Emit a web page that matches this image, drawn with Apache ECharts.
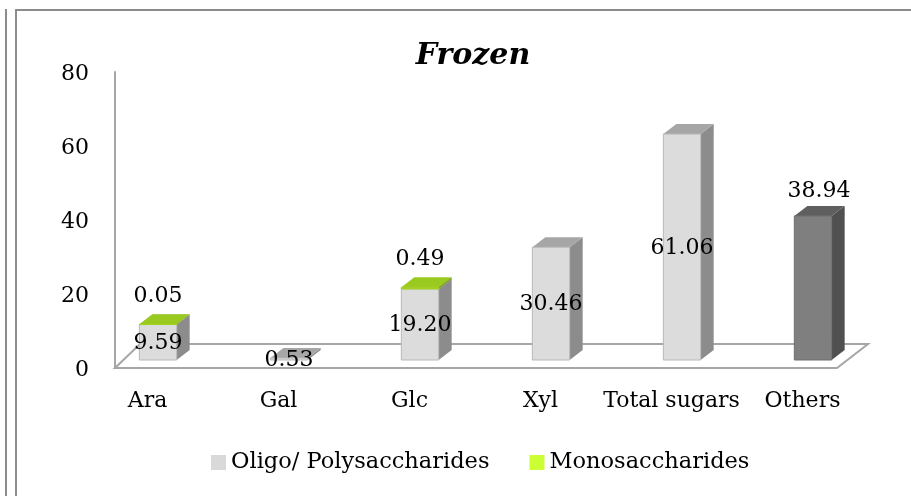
<!DOCTYPE html>
<html>
<head>
<meta charset="utf-8">
<title>Frozen</title>
<script src="https://cdn.jsdelivr.net/npm/echarts@6/dist/echarts.min.js"></script>
<style>
html, body { margin: 0; padding: 0; background: #fff; }
#main { width: 911px; height: 496px; }
</style>
</head>
<body>
<div id="main"></div>
<script>
var categories = ['Ara', 'Gal', 'Glc', 'Xyl', 'Total sugars', 'Others']
var oligo = [9.59, 0.53, 19.20, 30.46, 61.06, null]
var mono = [0.05, null, 0.49, null, null, null]
var others = [null, null, null, null, null, 38.94]
var yTicks = [0, 20, 40, 60, 80]

var FONT = '"DejaVu Serif", serif'
var LABEL_FONT = '22px ' + FONT

// fake 3D box: front face is pushed back from the axis position
var SHIFT_X = 10.5
var SHIFT_Y = -8
var DEPTH_X = 13
var DEPTH_Y = -10

function boxSeries (name, values, bases, colors, labelMode) {
  var rows = []
  values.forEach(function (v, i) {
    if (v !== null) rows.push([i, bases ? (bases[i] || 0) : 0, v])
  })
  return {
    name: name,
    type: 'custom',
    clip: false,
    itemStyle: { color: colors.legend },
    encode: { x: 0, y: 2 },
    data: rows,
    renderItem: function (params, api) {
      var idx = api.value(0)
      var base = api.value(1)
      var val = api.value(2)
      var cx = api.coord([idx, 0])[0] + SHIFT_X
      var y0 = api.coord([idx, base])[1] + SHIFT_Y
      var y1 = api.coord([idx, base + val])[1] + SHIFT_Y
      var w = api.size([1, 0])[0] * 0.285
      var l = cx - w / 2
      var r = cx + w / 2
      var children = [
        { type: 'polygon', shape: { points: [[r, y0], [r + DEPTH_X, y0 + DEPTH_Y], [r + DEPTH_X, y1 + DEPTH_Y], [r, y1]] }, style: { fill: colors.side } },
        { type: 'polygon', shape: { points: [[l, y1], [r, y1], [r + DEPTH_X, y1 + DEPTH_Y], [l + DEPTH_X, y1 + DEPTH_Y]] }, style: { fill: colors.top } },
        { type: 'rect', shape: { x: l, y: y1, width: w, height: y0 - y1 }, style: { fill: colors.front, stroke: colors.edge, lineWidth: 1 } }
      ]
      var text = val.toFixed(2)
      var lx = cx
      var ly = (y0 + y1) / 2 + 1
      if (labelMode === 'above') ly = y1 - 28
      if (labelMode === 'aboveRight') { lx = cx + 6; ly = y1 - 25 }
      children.push({
        type: 'text',
        z2: 50,
        style: { text: text, x: lx, y: ly, align: 'center', verticalAlign: 'middle', font: LABEL_FONT, fill: '#000' }
      })
      return { type: 'group', children: children }
    }
  }
}

var greyBox = { legend: '#d9d9d9', front: '#dcdcdc', side: '#8c8c8c', top: '#a6a6a6', edge: '#b8b8b8' }
var greenBox = { legend: '#ccff33', front: '#a4d022', side: '#7f9e1c', top: '#9aca1f', edge: '#a4d022' }
var darkBox = { legend: '#7f7f7f', front: '#7f7f7f', side: '#505050', top: '#5f5f5f', edge: '#6e6e6e' }

var chart = echarts.init(document.getElementById('main'))
chart.setOption({
  backgroundColor: '#fff',
  animation: false,
  textStyle: { fontFamily: FONT },
  title: {
    text: 'Frozen',
    left: 468,
    top: 36,
    textAlign: 'center',
    textStyle: { fontFamily: FONT, fontSize: 30, fontWeight: 'bold', fontStyle: 'italic', color: '#000' }
  },
  legend: {
    left: 206,
    top: 446,
    icon: 'rect',
    itemWidth: 15,
    itemHeight: 15,
    itemGap: 40,
    itemStyle: { borderWidth: 0 },
    textStyle: { fontFamily: FONT, fontSize: 22.5, color: '#000' },
    data: ['Oligo/ Polysaccharides', 'Monosaccharides']
  },
  grid: { left: 82, top: 72, width: 786, height: 296 },
  xAxis: {
    type: 'category',
    data: categories,
    axisLine: { show: false },
    axisTick: { show: false },
    axisLabel: { interval: 0, margin: 22, fontFamily: FONT, fontSize: 22, color: '#000' }
  },
  yAxis: {
    type: 'value',
    min: yTicks[0],
    max: yTicks[yTicks.length - 1],
    interval: 20,
    offset: -33,
    axisLine: { show: true, lineStyle: { color: '#a6a6a6', width: 2 } },
    axisTick: { show: false },
    splitLine: { show: false },
    axisLabel: { margin: 26, verticalAlign: 'top', lineHeight: 5, fontFamily: FONT, fontSize: 22, color: '#000' }
  },
  graphic: [
    // page frames
    { type: 'polyline', z: 0, shape: { points: [[6, 9], [6, 496]] }, style: { stroke: '#8c8c8c', lineWidth: 2, fill: null } },
    { type: 'polyline', z: 0, shape: { points: [[16, 496], [16, 10], [911, 10]] }, style: { stroke: '#8c8c8c', lineWidth: 2, fill: null } },
    // floor of the 3D plot
    { type: 'polygon', z: 0, shape: { points: [[115, 368], [140, 344], [868, 344], [837, 368]] }, style: { stroke: '#a6a6a6', lineWidth: 2, fill: '#fff' } }
  ],
  series: [
    boxSeries('Oligo/ Polysaccharides', oligo, null, greyBox, 'middle'),
    boxSeries('Monosaccharides', mono, oligo, greenBox, 'above'),
    boxSeries('Others', others, null, darkBox, 'aboveRight')
  ]
})
</script>
</body>
</html>
